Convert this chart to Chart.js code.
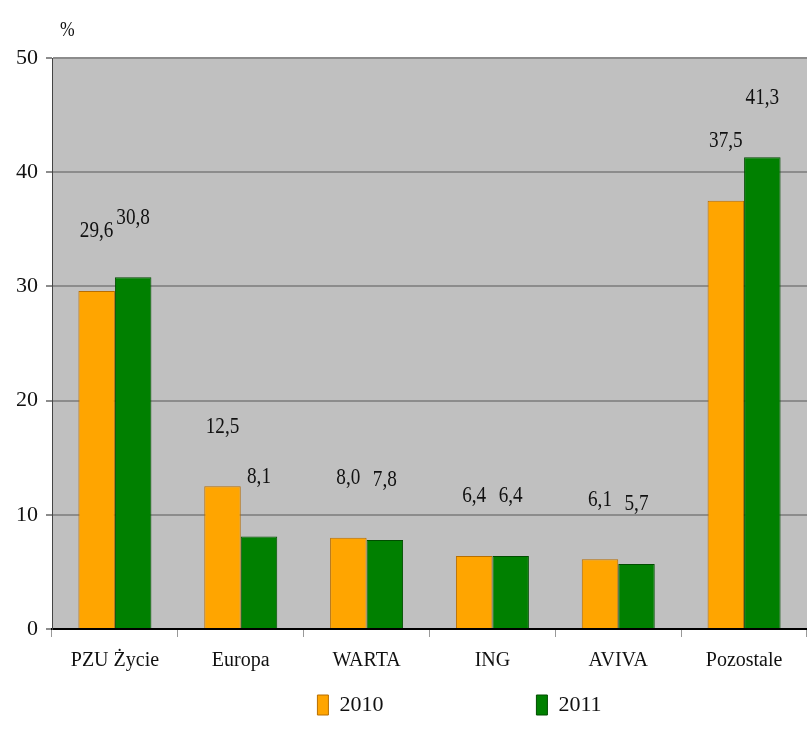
<!DOCTYPE html>
<html lang="pl">
<head>
    <meta charset="UTF-8">
    <title>Udziały w rynku</title>
    <style>
        body {
            margin: 0;
            padding: 0;
            background-color: white;
        }

        .chart-box {
            width: 807px;
            height: 750px;
        }
    </style>
</head>
<body>
    <div class="chart-box">
        <canvas id="marketChart"></canvas>
    </div>

    <script src="https://cdn.jsdelivr.net/npm/chart.js"></script>
    <script>
        // Dane z wykresu
        const companies = ["PZU Życie", "Europa", "WARTA", "ING", "AVIVA", "Pozostale"];
        const share2010 = [29.6, 12.5, 8.0, 6.4, 6.1, 37.5];
        const share2011 = [30.8, 8.1, 7.8, 6.4, 5.7, 41.3];
        const yearLabels = ["2010", "2011"];
        const yTicks = [0, 10, 20, 30, 40, 50];

        const fontName = "'Liberation Serif', 'Times New Roman', serif";

        // Szare tło pola wykresu, znak % i wartości nad słupkami
        const extras = {
            id: "extras",
            afterLayout(chart) {
                // legenda w oryginale jest troche przesunieta w prawo
                chart.legend.left += 56;
                chart.legend.right += 56;
            },
            beforeDraw(chart) {
                const a = chart.chartArea;
                const ctx = chart.ctx;
                ctx.save();
                ctx.fillStyle = "#c0c0c0";
                ctx.fillRect(a.left, a.top, a.right - a.left, a.bottom - a.top);
                ctx.restore();
            },
            afterDatasetsDraw(chart) {
                const ctx = chart.ctx;
                ctx.save();
                ctx.font = "24px " + fontName;
                ctx.fillStyle = "#111";
                ctx.textAlign = "center";
                ctx.textBaseline = "middle";
                chart.data.datasets.forEach((ds, i) => {
                    chart.getDatasetMeta(i).data.forEach((bar, j) => {
                        const txt = ds.data[j].toFixed(1).replace(".", ",");
                        ctx.save();
                        ctx.translate(bar.x, bar.y - 60);
                        ctx.scale(0.8, 1);
                        ctx.fillText(txt, 0, 0);
                        ctx.restore();
                    });
                });
                ctx.textAlign = "left";
                ctx.font = "22px " + fontName;
                ctx.save();
                ctx.translate(chart.chartArea.left + 8, chart.chartArea.top - 28);
                ctx.scale(0.8, 1);
                ctx.fillText("%", 0, 0);
                ctx.restore();
                ctx.restore();
            }
        };

        const ctx = document.getElementById("marketChart").getContext("2d");
        new Chart(ctx, {
            type: "bar",
            data: {
                labels: companies,
                datasets: [{
                    label: yearLabels[0],
                    data: share2010,
                    backgroundColor: "#ffa500",
                    borderColor: "#b86e00",
                    borderWidth: 1,
                    barPercentage: 1.0,
                    categoryPercentage: 0.58
                }, {
                    label: yearLabels[1],
                    data: share2011,
                    backgroundColor: "#008000",
                    borderColor: "#004d00",
                    borderWidth: 1,
                    barPercentage: 1.0,
                    categoryPercentage: 0.58
                }]
            },
            options: {
                responsive: true,
                maintainAspectRatio: false,
                animation: false,
                layout: {
                    padding: { top: 58, left: 0, right: 0, bottom: 24 }
                },
                plugins: {
                    tooltip: { enabled: false },
                    legend: {
                        position: "bottom",
                        labels: {
                            font: { family: fontName, size: 22 },
                            color: "#111",
                            boxWidth: 11,
                            boxHeight: 20,
                            padding: 10,
                            // duzy odstep miedzy 2010 a 2011
                            generateLabels(chart) {
                                const items = Chart.defaults.plugins.legend.labels.generateLabels(chart);
                                items.forEach((it, i) => {
                                    if (i < items.length - 1) it.text = it.text + " ".repeat(26);
                                });
                                return items;
                            }
                        }
                    }
                },
                scales: {
                    x: {
                        grid: {
                            display: true,
                            drawOnChartArea: false,
                            drawTicks: true,
                            tickLength: 8,
                            color: "#999"
                        },
                        border: { color: "#000", width: 2 },
                        ticks: {
                            font: { family: fontName, size: 20 },
                            color: "#111",
                            padding: 12
                        },
                        afterFit(scale) {
                            scale.height = 55;
                        }
                    },
                    y: {
                        min: 0,
                        max: 50,
                        afterBuildTicks(scale) {
                            scale.ticks = yTicks.map(v => ({ value: v }));
                        },
                        grid: {
                            color: "#8c8c8c",
                            lineWidth: 2,
                            drawTicks: true,
                            tickLength: 6
                        },
                        border: { color: "#444", width: 1 },
                        ticks: {
                            font: { family: fontName, size: 22 },
                            color: "#111",
                            padding: 8
                        },
                        afterFit(scale) {
                            scale.width = 52;
                        }
                    }
                }
            },
            plugins: [extras]
        });
    </script>
</body>
</html>
